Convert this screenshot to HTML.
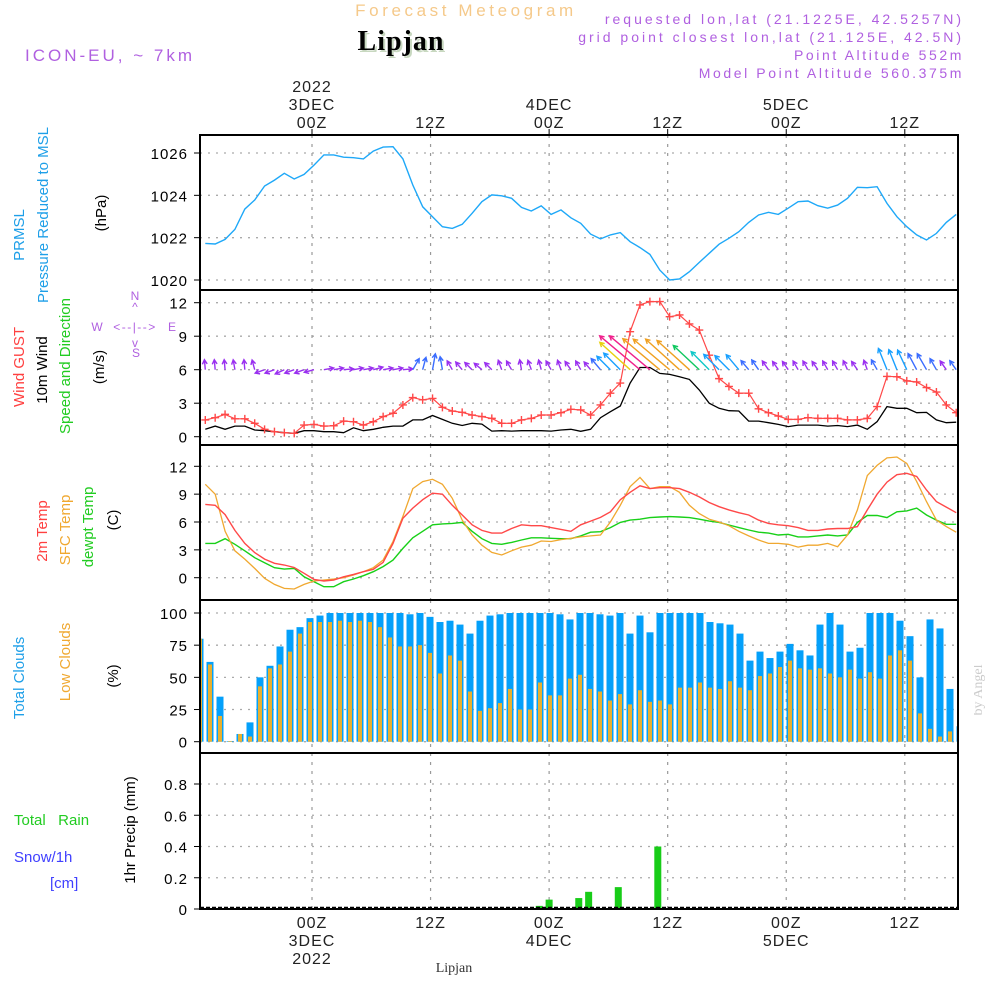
<!DOCTYPE html>
<html><head><meta charset="utf-8">
<style>
body{margin:0;background:#fff;width:1000px;height:1000px;overflow:hidden}
svg{display:block}
text{font-family:"Liberation Sans","DejaVu Sans",sans-serif}
</style></head>
<body>
<svg id="chart" width="1000" height="1000" viewBox="0 0 1000 1000" xmlns="http://www.w3.org/2000/svg">
<g>
<text x="466" y="16" text-anchor="middle" font-size="17" fill="#f5c98a" letter-spacing="3.6">Forecast Meteogram</text>
<text x="401" y="50" text-anchor="middle" font-size="28" font-weight="bold" fill="#c8d8c0" style="font-family:'Liberation Serif',serif" letter-spacing="1" transform="translate(2,2)">Lipjan</text>
<text x="401" y="50" text-anchor="middle" font-size="28" font-weight="bold" fill="#000" style="font-family:'Liberation Serif',serif" letter-spacing="1">Lipjan</text>
<text x="25" y="61" font-size="17" fill="#b060e0" letter-spacing="3">ICON-EU, ~ 7km</text>
<text x="964" y="24" text-anchor="end" font-size="14" fill="#b060e0" letter-spacing="3">requested lon,lat (21.1225E, 42.5257N)</text>
<text x="964" y="42" text-anchor="end" font-size="14" fill="#b060e0" letter-spacing="3">grid point closest lon,lat (21.125E, 42.5N)</text>
<text x="964" y="60" text-anchor="end" font-size="14" fill="#b060e0" letter-spacing="2.6">Point Altitude 552m</text>
<text x="964" y="78" text-anchor="end" font-size="14" fill="#b060e0" letter-spacing="2.6">Model Point Altitude 560.375m</text>
</g>
<g id="left-labels" font-size="15">
<text transform="translate(24,235) rotate(-90)" text-anchor="middle" fill="#1e9fe8">PRMSL</text>
<text transform="translate(48,215) rotate(-90)" text-anchor="middle" fill="#1e9fe8">Pressure Reduced to MSL</text>
<text transform="translate(106,213) rotate(-90)" text-anchor="middle" fill="#000">(hPa)</text>
<text transform="translate(24,367) rotate(-90)" text-anchor="middle" fill="#ff4040">Wind GUST</text>
<text transform="translate(47,370) rotate(-90)" text-anchor="middle" fill="#000">10m Wind</text>
<text transform="translate(70,366) rotate(-90)" text-anchor="middle" fill="#22cc22">Speed and Direction</text>
<text transform="translate(104,367) rotate(-90)" text-anchor="middle" fill="#000">(m/s)</text>
<g fill="#b060e0" font-size="12">
<text x="135" y="300" text-anchor="middle">N</text>
<text x="135" y="311" text-anchor="middle">^</text>
<text x="97" y="331" text-anchor="middle">W</text>
<text x="135" y="331" text-anchor="middle" letter-spacing="1.5">&lt;--|--&gt;</text>
<text x="172" y="331" text-anchor="middle">E</text>
<text x="135" y="347" text-anchor="middle">v</text>
<text x="136" y="357" text-anchor="middle">S</text>
</g>
<text transform="translate(47,531) rotate(-90)" text-anchor="middle" fill="#ff4040">2m Temp</text>
<text transform="translate(70,530) rotate(-90)" text-anchor="middle" fill="#f0a830">SFC Temp</text>
<text transform="translate(93,527) rotate(-90)" text-anchor="middle" fill="#22cc22">dewpt Temp</text>
<text transform="translate(118,520) rotate(-90)" text-anchor="middle" fill="#000">(C)</text>
<text transform="translate(24,678) rotate(-90)" text-anchor="middle" fill="#1e9fe8">Total Clouds</text>
<text transform="translate(70,662) rotate(-90)" text-anchor="middle" fill="#f0a830">Low Clouds</text>
<text transform="translate(118,676) rotate(-90)" text-anchor="middle" fill="#000">(%)</text>
<text x="14" y="825" fill="#22cc22" xml:space="preserve">Total   Rain</text>
<text x="14" y="862" fill="#4040ff">Snow/1h</text>
<text x="50" y="888" fill="#4040ff">[cm]</text>
<text transform="translate(135,830) rotate(-90)" text-anchor="middle" fill="#000">1hr Precip (mm)</text>
<text transform="translate(982,690) rotate(-90)" text-anchor="middle" fill="#ccc" font-size="14" style="font-family:'Liberation Serif',serif">by Angel</text>
<text x="454" y="972" text-anchor="middle" fill="#333" font-size="14" style="font-family:'Liberation Serif',serif">Lipjan</text>
</g>
<g id="layer"></g>
</svg>
<script>
// ---- data (hourly) ----
const startHour = -10.8;
const pressure = [1021.73,1021.70,1021.92,1022.39,1023.35,1023.78,1024.44,1024.72,1025.04,1024.77,1024.99,1025.43,1025.91,1025.91,1025.80,1025.78,1025.72,1026.09,1026.28,1026.30,1025.72,1024.49,1023.46,1022.99,1022.52,1022.44,1022.63,1023.15,1023.70,1024.02,1023.98,1023.86,1023.43,1023.26,1023.50,1023.10,1023.31,1022.94,1022.68,1022.17,1021.94,1022.13,1022.24,1021.81,1021.53,1021.21,1020.47,1020.0,1020.05,1020.39,1020.83,1021.26,1021.69,1021.97,1022.28,1022.72,1023.07,1023.20,1023.10,1023.39,1023.70,1023.73,1023.51,1023.39,1023.54,1023.86,1024.38,1024.36,1024.41,1023.62,1022.99,1022.52,1022.13,1021.89,1022.20,1022.72,1023.1];
const gust = [1.5,1.7,2.0,1.6,1.6,1.2,0.66,0.45,0.36,0.3,1.04,1.1,0.95,0.98,1.4,1.34,1.04,1.34,1.8,2.1,2.84,3.5,3.3,3.43,2.63,2.3,2.18,1.94,1.8,1.64,1.2,1.2,1.5,1.64,1.94,1.94,2.15,2.45,2.4,1.94,2.84,3.9,4.8,9.4,11.8,12.1,12.1,10.75,10.9,10.1,9.55,7.3,5.2,4.5,3.9,3.9,2.5,2.15,1.85,1.55,1.55,1.7,1.64,1.64,1.64,1.5,1.5,1.64,2.7,5.4,5.37,5.0,4.9,4.4,4.0,2.84,2.15];
const wind10 = [0.66,0.95,0.66,0.95,0.95,0.6,0.54,0.45,0.36,0.3,0.54,0.54,0.45,0.45,0.36,0.8,0.54,0.66,0.84,0.95,0.95,1.5,1.5,1.9,1.55,1.2,1.0,1.2,1.13,0.5,0.54,0.5,0.54,0.54,0.54,0.5,0.6,0.66,0.48,0.66,1.7,2.24,2.75,4.8,6.2,6.2,5.67,5.58,5.37,5.13,4.18,3.0,2.54,2.33,2.3,1.4,1.4,1.25,1.1,0.9,1.04,1.04,1.04,0.95,1.0,0.9,1.04,0.66,1.34,2.7,2.54,2.54,2.15,2.18,1.5,1.25,1.3];
const windDir = [95,95,95,100,95,105,200,200,205,200,200,195,10,10,5,10,10,15,10,10,5,60,75,80,100,120,130,135,140,135,110,120,100,110,105,120,110,125,120,130,130,135,135,138,140,140,140,140,138,138,137,135,135,135,130,130,125,125,125,125,120,120,125,120,120,115,125,110,120,112,112,115,118,120,120,125,125];
const temp2m = [7.9,7.8,6.8,5.1,3.7,2.7,2.0,1.55,1.37,1.1,0.47,-0.18,-0.36,-0.25,0.1,0.36,0.65,0.9,1.65,3.7,6.4,7.5,8.4,9.1,9.0,7.8,6.75,5.7,5.1,4.8,4.8,5.3,5.7,5.6,5.6,5.4,5.2,5.0,5.7,6.1,6.5,7.1,8.4,9.2,9.9,9.6,9.7,9.7,9.6,9.2,8.7,8.1,7.65,7.3,7.0,6.75,6.2,5.85,5.7,5.6,5.4,5.1,5.1,5.25,5.3,5.3,5.5,7.3,9.0,10.3,11.1,11.25,10.9,9.45,8.2,7.6,7.0];
const sfcTemp = [10.06,9.0,5.0,2.9,2.0,1.0,-0.07,-0.72,-1.15,-1.22,-0.72,-0.36,-0.25,-0.14,0,0.29,0.65,1.08,1.9,3.9,6.6,9.6,10.35,10.6,10.06,8.55,6.2,4.6,3.5,2.73,2.44,2.9,3.3,3.5,3.95,3.9,4.1,4.24,4.4,4.5,4.6,6.0,7.8,9.8,10.8,9.6,9.8,9.8,9.2,7.8,6.9,6.3,6.0,5.6,5.0,4.5,4.06,3.7,3.7,3.6,3.3,3.5,3.5,3.7,3.34,4.6,7.3,11.0,12.1,12.9,13.0,12.3,10.35,8.2,6.2,5.5,4.9];
const dewpt = [3.7,3.7,4.2,3.6,2.9,2.15,1.6,1.08,0.93,1.0,0.1,-0.43,-0.97,-0.97,-0.43,-0.14,0.22,0.65,1.2,1.9,3.16,4.3,5.0,5.7,5.8,5.85,5.96,5.0,4.2,3.7,3.6,3.8,4.06,4.3,4.3,4.24,4.2,4.2,4.5,4.9,4.96,5.4,5.96,6.2,6.3,6.47,6.54,6.58,6.54,6.47,6.3,6.1,5.96,5.68,5.4,5.14,4.9,4.8,4.6,4.67,4.4,4.4,4.5,4.6,4.5,4.6,5.96,6.7,6.7,6.47,7.1,7.2,7.5,6.75,6.2,5.75,5.75];
const totalCloud = [80,62,35,0.5,6,15,50,59,74,87,89,96,98,100,100,100,100,100,100,100,100,99,100,97,93,94,91,84,94,98,99,100,100,100,100,100,99,95,100,100,99,98,100,84,98,85,100,100,100,100,100,93,92,91,84,63,70,65,70,76,71,67,91,100,91,70,73,100,100,100,94,82,50,95,88,41,12];
const lowCloud = [80,60,20,0.5,6,4,43,57,60,70,84,93,93,93,94,93,94,93,89,81,74,74,75,69,53,67,63,39,24,26,30,41,25,25,46,36,36,49,52,41,39,32,37,29,40,31,32,29,42,42,46,42,41,47,42,40,51,53,58,63,57,56,57,53,50,56,49,54,49,67,71,63,22,10,4,8,6];
const precipHours = [23,24,27,28,31,35];
const precipVals = [0.02,0.06,0.07,0.11,0.14,0.40];
const timeTicks = [0,12,24,36,48,60];
const pressTicks = [1020,1022,1024,1026];
const windTicks = [0,3,6,9,12];
const tempTicks = [0,3,6,9,12];
const cloudTicks = [0,25,50,75,100];
const precipTicks = [0,0.2,0.4,0.6,0.8];

const NS="http://www.w3.org/2000/svg";
const layer=document.getElementById('layer');
const X0=200,X1=958;
const xh = h => 312 + 9.88*h;
const hourOf = i => startHour + i;
const barX = i => 200 + 10*i;
function mk(tag,attrs,parent){const e=document.createElementNS(NS,tag);for(const k in attrs)e.setAttribute(k,attrs[k]);(parent||layer).appendChild(e);return e;}

const panels=[
 {name:'pressure',top:135,bot:290,ticks:pressTicks,fmt:v=>String(v)},
 {name:'wind',top:290,bot:445,ticks:windTicks,fmt:v=>String(v)},
 {name:'temp',top:445,bot:600,ticks:tempTicks,fmt:v=>String(v)},
 {name:'clouds',top:600,bot:753,ticks:cloudTicks,fmt:v=>String(v)},
 {name:'precip',top:753,bot:909,ticks:precipTicks,fmt:v=>v===0?'0':v.toFixed(1)}
];
panels[0].y=v=>280-(v-1020)/6*127;
panels[1].y=v=>436.7-v/12*134;
panels[2].y=v=>577.7-v/12*111.4;
panels[3].y=v=>741.7-v/100*128.7;
panels[4].y=v=>909-v/0.8*125;

panels.forEach(p=>{
  const g=mk('g',{});
  
  
  p.ticks.forEach(t=>{
    const yy=p.y(t);
    const l=mk('line',{x1:X0,x2:X1,y1:yy,y2:yy,stroke:'#aaa','stroke-dasharray':'2,6','stroke-width':1.3},g);
    
    
  });
  timeTicks.forEach(h=>{
    const vl=mk('line',{x1:xh(h),x2:xh(h),y1:p.top,y2:p.bot,stroke:'#999','stroke-dasharray':'3,6','stroke-width':1.2},g);
    
    
  });
  p.g=g;
});

function line(arr,p,color,name,w){
  const pts=arr.map((v,i)=>xh(hourOf(i)).toFixed(1)+','+p.y(v).toFixed(1)).join(' ');
  const pl=mk('polyline',{points:pts,fill:'none',stroke:color,'stroke-width':w||1.3},p.g);
  
  
  return pl;
}
line(pressure,panels[0],'#1ea8f8','pressure-line',1.4);
line(wind10,panels[1],'#000','wind10m-line',1.3);
line(gust,panels[1],'#ff4848','gust-line',1.2);
gust.forEach((v,i)=>{
  const cx=xh(hourOf(i)),cy=panels[1].y(v);
  const m=mk('path',{d:`M${cx-4},${cy}h8M${cx},${cy-4}v8`,stroke:'#ff4848','stroke-width':1.4},panels[1].g);
  
  
});
function windColor(s){if(s<1.3)return '#9a30f0';if(s<2.2)return '#3a6cff';if(s<2.8)return '#18a0ff';if(s<3.6)return '#10c8c8';if(s<4.6)return '#10c860';if(s<5.0)return '#e8d010';if(s<5.8)return '#f0a020';if(s<6.0)return '#f08020';return '#f0208c';}
wind10.forEach((s,i)=>{
  const x=xh(hourOf(i)),y=panels[1].y(6);
  const L=Math.max(10,s*8.5),a=windDir[i]*Math.PI/180;
  const tx=x+Math.cos(a)*L, ty=y-Math.sin(a)*L;
  const c=windColor(s);
  const hl=5,ha=0.5;
  const a1=Math.atan2(y-ty,x-tx);
  const h1x=tx+hl*Math.cos(a1+ha),h1y=ty+hl*Math.sin(a1+ha),h2x=tx+hl*Math.cos(a1-ha),h2y=ty+hl*Math.sin(a1-ha);
  const ar=mk('path',{d:`M${x},${y}L${tx},${ty}M${h1x},${h1y}L${tx},${ty}L${h2x},${h2y}`,stroke:c,fill:'none','stroke-width':1.4},panels[1].g);
  
  
});
line(dewpt,panels[2],'#18d018','dewpoint-line',1.4);
line(sfcTemp,panels[2],'#f0a830','sfc-temp-line',1.3);
line(temp2m,panels[2],'#ff4848','temp2m-line',1.4);
totalCloud.forEach((v,i)=>{
  const x=barX(i),p=panels[3];
  const r=mk('rect',{x:x-3.5,y:p.y(v),width:7,height:p.y(0)-p.y(v),fill:'#04a0fa'},p.g);
  
  
});
lowCloud.forEach((v,i)=>{
  const x=barX(i),p=panels[3];
  const r=mk('rect',{x:x-2,y:p.y(v),width:4,height:p.y(0)-p.y(v),fill:'#e8b030'},p.g);
  
  
});
precipVals.forEach((v,i)=>{
  const x=xh(precipHours[i]),p=panels[4];
  const r=mk('rect',{x:x-3.5,y:p.y(v),width:7,height:p.y(0)-p.y(v),fill:'#18cc18'},p.g);
  
  
});
const zl=mk('line',{x1:X0,x2:X1,y1:907.5,y2:907.5,stroke:'#000','stroke-dasharray':'4,2','stroke-width':1.5},panels[4].g);


const cL=mk('rect',{x:X1+1,y:130,width:15,height:785,fill:'#fff'});


const cL2=mk('rect',{x:192,y:600,width:7,height:150,fill:'#fff'});


panels.forEach(p=>{
  const f=mk('rect',{x:X0,y:p.top,width:X1-X0,height:p.bot-p.top,fill:'none',stroke:'#000','stroke-width':2});
  
  
  p.ticks.forEach(t=>{
    const yy=p.y(t);
    const tk=mk('line',{x1:X0-6,x2:X0,y1:yy,y2:yy,stroke:'#000'});
    
    
    const tx=mk('text',{x:188,y:yy+6,'text-anchor':'end','font-size':15,fill:'#000','letter-spacing':'1'});
    tx.textContent=p.fmt(t);
    
    
  });
});
const topLbl=[['2022','3DEC','00Z'],['','','12Z'],['','4DEC','00Z'],['','','12Z'],['','5DEC','00Z'],['','','12Z']];
const botLbl=[['00Z','3DEC','2022'],['12Z','',''],['00Z','4DEC',''],['12Z','',''],['00Z','5DEC',''],['12Z','','']];
timeTicks.forEach((h,k)=>{
  const x=xh(h);
  topLbl[k].forEach((s,j)=>{ if(!s)return;
    const t=mk('text',{x:x,y:92+j*18,'text-anchor':'middle','font-size':16,fill:'#222','letter-spacing':'1'});
    t.textContent=s;
    
    
  });
  botLbl[k].forEach((s,j)=>{ if(!s)return;
    const t=mk('text',{x:x,y:928+j*18,'text-anchor':'middle','font-size':16,fill:'#222','letter-spacing':'1'});
    t.textContent=s;
    
    
  });
  const tt=mk('line',{x1:x,x2:x,y1:129,y2:135,stroke:'#000'});
  
  
});
</script>
</body></html>
